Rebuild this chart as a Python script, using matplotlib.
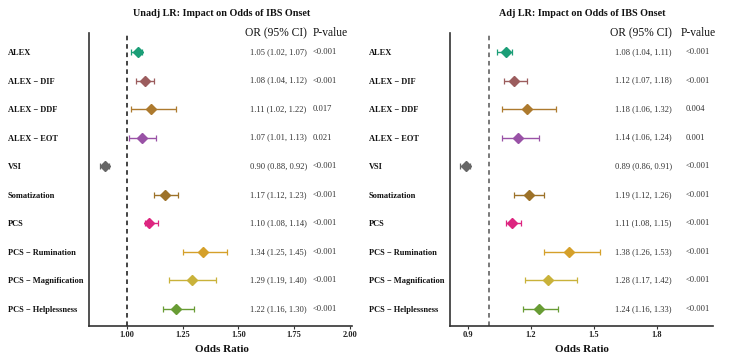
import matplotlib
matplotlib.use("Agg")
import matplotlib.pyplot as plt
from matplotlib import transforms

plt.rcParams['font.family'] = ['Liberation Serif', 'DejaVu Serif']

labels = ["ALEX", "ALEX \u2212 DIF", "ALEX \u2212 DDF", "ALEX \u2212 EOT", "VSI",
          "Somatization", "PCS", "PCS \u2212 Rumination", "PCS \u2212 Magnification",
          "PCS \u2212 Helplessness"]
colors = ["#1b9e77", "#9c5d5e", "#ad7a2e", "#9952a6", "#666666",
          "#9d7229", "#dd2580", "#d5a02a", "#c9b23a", "#689c34"]

unadj_or = [1.05, 1.08, 1.11, 1.07, 0.90, 1.17, 1.10, 1.34, 1.29, 1.22]
unadj_lo = [1.02, 1.04, 1.02, 1.01, 0.88, 1.12, 1.08, 1.25, 1.19, 1.16]
unadj_hi = [1.07, 1.12, 1.22, 1.13, 0.92, 1.23, 1.14, 1.45, 1.40, 1.30]
unadj_p = ["<0.001", "<0.001", "0.017", "0.021", "<0.001", "<0.001", "<0.001", "<0.001", "<0.001", "<0.001"]

adj_or = [1.08, 1.12, 1.18, 1.14, 0.89, 1.19, 1.11, 1.38, 1.28, 1.24]
adj_lo = [1.04, 1.07, 1.06, 1.06, 0.86, 1.12, 1.08, 1.26, 1.17, 1.16]
adj_hi = [1.11, 1.18, 1.32, 1.24, 0.91, 1.26, 1.15, 1.53, 1.42, 1.33]
adj_p = ["<0.001", "<0.001", "0.004", "0.001", "<0.001", "<0.001", "<0.001", "<0.001", "<0.001", "<0.001"]

unadj_ticks = [1.00, 1.25, 1.50, 1.75, 2.00]
adj_ticks = [0.9, 1.2, 1.5, 1.8]

W, H = 755, 359
fig = plt.figure(figsize=(W / 100, H / 100), dpi=100)


def panel(left_px, right_px, orv, lo, hi, pv, ticks, fmt, xlim, title, title_x,
          or_x, p_x, hor_x, hp_x, vcolor):
    ax = fig.add_axes([left_px / W, 1 - 326 / H, (right_px - left_px) / W, (326 - 33) / H])
    n = len(labels)
    ys = [n - i for i in range(n)]
    ax.axvline(1.0, color=vcolor, ls=(0, (3, 2.5)), lw=1.1, zorder=1)
    for y, o, l, h, c in zip(ys, orv, lo, hi, colors):
        ax.errorbar([o], [y], xerr=[[o - l], [h - o]], fmt='D', color=c, ms=5,
                    elinewidth=1.0, capsize=2.2, capthick=0.9, zorder=3)
    ax.set_xlim(*xlim)
    ax.set_ylim(0.405, 10.665)
    ax.set_yticks(ys)
    ax.set_yticklabels(labels, fontsize=6.0, fontweight='bold', ha='left', color='#111111')
    ax.tick_params(axis='y', length=0, pad=58.3)
    ax.set_xticks(ticks)
    ax.set_xticklabels([fmt % t for t in ticks], fontsize=6.0, fontweight='bold', color='#222222')
    ax.tick_params(axis='x', length=2, width=0.8, pad=1.5, color='#333333')
    for s in ['top', 'right']:
        ax.spines[s].set_visible(False)
    for s in ['left', 'bottom']:
        ax.spines[s].set_linewidth(1.2)
        ax.spines[s].set_color('#333333')
    trans = transforms.blended_transform_factory(ax.transAxes, ax.transData)
    for y, o, l, h, p in zip(ys, orv, lo, hi, pv):
        ax.text(or_x, y, "%.2f (%.2f, %.2f)" % (o, l, h), transform=trans, fontsize=6.1,
                ha='left', va='center', color='#333333')
        ax.text(p_x, y, p, transform=trans, fontsize=6.1, ha='left', va='center', color='#333333')
    ax.text(hor_x, 1.0, "OR (95% CI)", transform=ax.transAxes, fontsize=8.3,
            ha='left', va='center', color='#111111')
    ax.text(hp_x, 1.0, "P-value", transform=ax.transAxes, fontsize=8.3,
            ha='left', va='center', color='#111111')
    fig.text(title_x / W, 1 - 13 / H, title, fontsize=7.3, fontweight='bold',
             ha='center', va='center', color='#111111')
    fig.text(title_x / W, 1 - 349 / H, "Odds Ratio", fontsize=8.0, fontweight='bold',
             ha='center', va='center', color='#111111')
    return ax


panel(89, 352, unadj_or, unadj_lo, unadj_hi, unadj_p, unadj_ticks, "%.2f", (0.83, 2.01),
      "Unadj LR: Impact on Odds of IBS Onset", 222,
      (250 - 89) / 263, (313 - 89) / 263, (245 - 89) / 263, (313 - 89) / 263, '#111111')
panel(450, 713, adj_or, adj_lo, adj_hi, adj_p, adj_ticks, "%.1f", (0.813, 2.07),
      "Adj LR: Impact on Odds of IBS Onset", 582,
      (615 - 450) / 263, (686 - 450) / 263, (610 - 450) / 263, (681 - 450) / 263, '#555555')

fig.savefig("out.png", dpi=100)
